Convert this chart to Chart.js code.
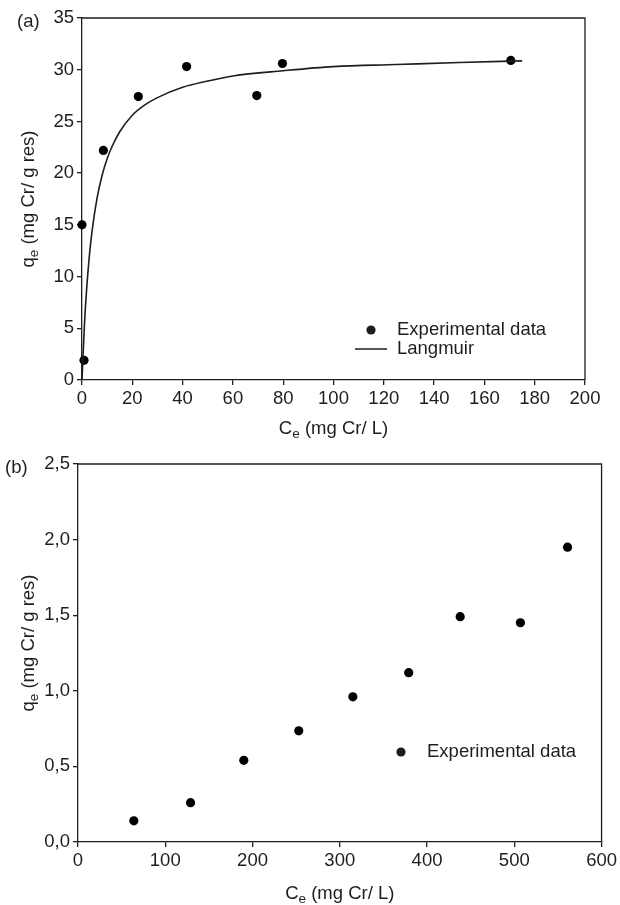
<!DOCTYPE html>
<html><head><meta charset="utf-8">
<script src="https://cdn.jsdelivr.net/npm/chart.js@4/dist/chart.umd.min.js"></script>
<style>
html,body{margin:0;padding:0;background:#fff;}
#wa{position:absolute;left:0;top:0;width:620px;height:445px;}
#wb{position:absolute;left:0;top:445px;width:620px;height:460px;}
</style></head><body>
<div id="wa"><canvas id="ca"></canvas></div>
<div id="wb"><canvas id="cb"></canvas></div>
<script>
// ---- data ----
const expA_Ce = [0, 0.8, 8.5, 22.4, 41.6, 69.5, 79.7, 170.5];
const expA_qe = [15.0, 1.9, 22.2, 27.4, 30.3, 27.5, 30.6, 30.9];
const langA_Ce = [0, 1, 2, 3, 4, 6, 8, 10, 12, 15, 20, 25, 30, 40, 50, 60, 80, 100, 125, 150, 175];
const langA_qe = [0, 5.5, 9.3, 12.2, 14.4, 17.6, 19.8, 21.4, 22.6, 24.0, 25.6, 26.6, 27.3, 28.3, 28.9, 29.4, 29.9, 30.3, 30.5, 30.7, 30.85];
const expB_Ce = [64, 129, 190, 253, 315, 379, 438, 507, 561];
const expB_qe = [0.14, 0.26, 0.54, 0.735, 0.96, 1.12, 1.49, 1.45, 1.95];
const ticksA_x = [0, 20, 40, 60, 80, 100, 120, 140, 160, 180, 200];
const ticksA_y = [0, 5, 10, 15, 20, 25, 30, 35];
const ticksB_x = [0, 100, 200, 300, 400, 500, 600];
const ticksB_y = [0, 0.5, 1.0, 1.5, 2.0, 2.5];
const labelExp = "Experimental data";
const labelLang = "Langmuir";

const FONT = "'Liberation Sans', Arial, sans-serif";
const FS = 18.5;
const INK = '#1e1e1e';
const pts = (xs, ys) => xs.map((x, i) => ({x, y: ys[i]}));

function drawSubTitle(ctx, main, sub, rest, cx, cy, rotate) {
  ctx.save();
  ctx.fillStyle = INK;
  ctx.translate(cx, cy);
  if (rotate) ctx.rotate(-Math.PI / 2);
  const fMain = FS + 'px ' + FONT, fSub = '13.5px ' + FONT;
  ctx.font = fMain; const w1 = ctx.measureText(main).width; const w3 = ctx.measureText(rest).width;
  ctx.font = fSub; const w2 = ctx.measureText(sub).width;
  const total = w1 + w2 + w3;
  let x = -total / 2;
  ctx.textBaseline = 'alphabetic'; ctx.textAlign = 'left';
  ctx.font = fMain; ctx.fillText(main, x, 6); x += w1;
  ctx.font = fSub; ctx.fillText(sub, x, 10); x += w2;
  ctx.font = fMain; ctx.fillText(rest, x, 6);
  ctx.restore();
}

function makePlugin(opts) {
  return {
    id: 'deco',
    afterDraw(chart) {
      const ctx = chart.ctx, a = chart.chartArea;
      ctx.save();
      ctx.strokeStyle = INK; ctx.lineWidth = 1.3;
      ctx.beginPath();
      ctx.moveTo(a.left, a.top); ctx.lineTo(a.right, a.top); ctx.lineTo(a.right, a.bottom);
      ctx.stroke();
      ctx.fillStyle = INK; ctx.font = FS + 'px ' + FONT; ctx.textBaseline = 'middle'; ctx.textAlign = 'left';
      ctx.fillText(opts.panel, opts.panelX, opts.panelY);
      // legend
      opts.legend.forEach(it => {
        if (it.type === 'dot') {
          ctx.beginPath(); ctx.arc(it.mx, it.y, 4.6, 0, Math.PI * 2); ctx.fill();
        } else {
          ctx.beginPath(); ctx.lineWidth = 1.5; ctx.moveTo(it.mx - 16, it.y); ctx.lineTo(it.mx + 16, it.y); ctx.stroke();
        }
        ctx.fillText(it.text, it.tx, it.y);
      });
      ctx.restore();
      drawSubTitle(ctx, 'C', 'e', ' (mg Cr/ L)', (a.left + a.right) / 2, opts.xTitleY, false);
      drawSubTitle(ctx, 'q', 'e', ' (mg Cr/ g res)', opts.yTitleX, opts.yTitleY, true);
    }
  };
}

function axis(min, max, tickArr, fit, isX, fmt) {
  return {
    type: 'linear', min, max, position: isX ? 'bottom' : 'left',
    afterBuildTicks: s => { s.ticks = tickArr.map(v => ({value: v})); },
    afterFit: s => { if (isX) s.height = fit; else s.width = fit; },
    grid: {display: true, drawOnChartArea: false, drawTicks: true, tickLength: 5, color: INK, lineWidth: 1.3},
    border: {display: true, color: INK, width: 1.3},
    ticks: {color: INK, font: {family: FONT, size: FS}, padding: 3, maxRotation: 0, autoSkip: false,
      callback: fmt || (v => String(v))}
  };
}

Chart.defaults.animation = false;

new Chart(document.getElementById('ca'), {
  type: 'scatter',
  data: {datasets: [
    {label: labelLang, type: 'line', data: pts(langA_Ce, langA_qe), borderColor: INK, borderWidth: 1.6,
     pointRadius: 0, fill: false, cubicInterpolationMode: 'monotone', showLine: true},
    {label: labelExp, data: pts(expA_Ce, expA_qe), backgroundColor: '#000', borderColor: '#000',
     pointRadius: 4.6, pointBorderWidth: 0, clip: false}
  ]},
  options: {
    responsive: true, maintainAspectRatio: false, animation: false,
    layout: {padding: {top: 18, right: 35, left: 0, bottom: 0}},
    plugins: {legend: {display: false}, tooltip: {enabled: false}},
    scales: {
      x: axis(0, 200, ticksA_x, 65, true),
      y: axis(0, 35, ticksA_y, 82, false)
    }
  },
  plugins: [makePlugin({panel: '(a)', panelX: 17, panelY: 22, xTitleY: 428, yTitleX: 28, yTitleY: 199,
    legend: [{type: 'dot', mx: 371, tx: 397, y: 330, text: labelExp}, {type: 'line', mx: 371, tx: 397, y: 349, text: labelLang}]})]
});

new Chart(document.getElementById('cb'), {
  type: 'scatter',
  data: {datasets: [
    {label: labelExp, data: pts(expB_Ce, expB_qe), backgroundColor: '#000', borderColor: '#000',
     pointRadius: 4.6, pointBorderWidth: 0, clip: false}
  ]},
  options: {
    responsive: true, maintainAspectRatio: false, animation: false,
    layout: {padding: {top: 19, right: 13, left: 0, bottom: 0}},
    plugins: {legend: {display: false}, tooltip: {enabled: false}},
    scales: {
      x: axis(0, 600, ticksB_x, 63, true),
      y: axis(0, 2.5, ticksB_y, 78, false, v => v.toFixed(1).replace('.', ','))
    }
  },
  plugins: [makePlugin({panel: '(b)', panelX: 5, panelY: 23, xTitleY: 448, yTitleX: 28, yTitleY: 198,
    legend: [{type: 'dot', mx: 401, tx: 427, y: 307, text: labelExp}]})]
});
</script>
</body></html>
